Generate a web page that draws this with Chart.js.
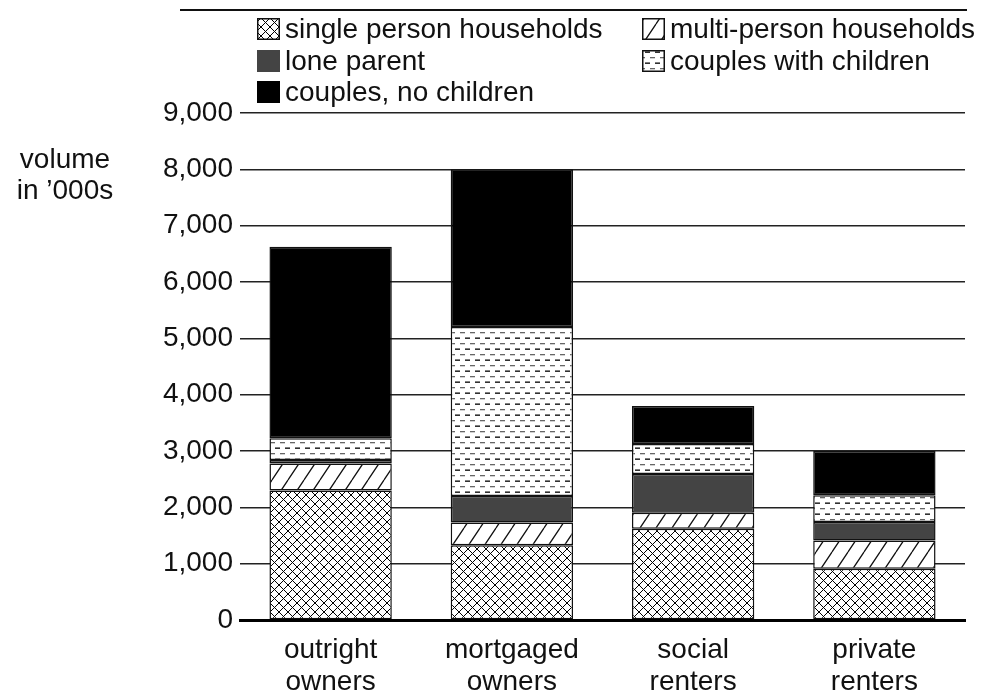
<!DOCTYPE html>
<html>
<head>
<meta charset="utf-8">
<script src="https://cdn.jsdelivr.net/npm/chart.js@4"></script>
<style>
  html, body { margin: 0; padding: 0; background: #fff; }
  #wrap { width: 997px; height: 695px; }
</style>
</head>
<body>
<div id="wrap"><canvas id="chart" width="997" height="695"></canvas></div>
<script>
// ── Data ──────────────────────────────────────────────
const categories = [['outright', 'owners'], ['mortgaged', 'owners'], ['social', 'renters'], ['private', 'renters']];
const seriesNames = ['single person households', 'multi-person households', 'lone parent', 'couples with children', 'couples, no children'];
const singlePerson = [2300, 1325, 1620, 910];
const multiPerson = [480, 405, 285, 500];
const loneParent = [60, 470, 685, 330];
const couplesWithChildren = [385, 3000, 535, 475];
const couplesNoChildren = [3400, 2800, 675, 785];
const yAxisTitle = ['volume', 'in \u2019000s'];

const FONT = '"Liberation Sans", Arial, Helvetica, sans-serif';
const TEXT = '#111';

/**
 * Build a canvas pattern from a small tile drawer
 */
function makePattern(w, h, draw) {
    const c = document.createElement('canvas');
    c.width = w; c.height = h;
    const g = c.getContext('2d');
    g.fillStyle = '#fff';
    g.fillRect(0, 0, w, h);
    draw(g, w, h);
    return document.getElementById('chart').getContext('2d').createPattern(c, 'repeat');
}

const crossHatch = makePattern(9, 9, (g, w, h) => {
    g.strokeStyle = '#000';
    g.lineWidth = 1;
    g.beginPath();
    g.moveTo(-2, -2); g.lineTo(w + 2, h + 2);
    g.moveTo(-2, h + 2); g.lineTo(w + 2, -2);
    g.stroke();
});

const diagHatch = makePattern(16, 24, (g, w, h) => {
    g.strokeStyle = '#111';
    g.lineWidth = 1.3;
    g.beginPath();
    for (const dx of [-w, 0, w]) {
        g.moveTo(dx, h); g.lineTo(dx + w, 0);
    }
    g.stroke();
});

const dashLines = makePattern(10, 11, (g) => {
    g.fillStyle = '#666';
    g.fillRect(0, 2, 5, 1.3);
    g.fillStyle = '#000';
    g.fillRect(5, 7.5, 5, 1.3);
});

const fills = [crossHatch, diagHatch, '#444444', dashLines, '#000000'];
const values = [singlePerson, multiPerson, loneParent, couplesWithChildren, couplesNoChildren];

/**
 * Legend in two columns, axis title and top rule
 */
const decorPlugin = {
    id: 'decor',
    afterDraw(chart) {
        const { ctx, chartArea } = chart;
        ctx.save();

        // rule across the top
        ctx.strokeStyle = '#111';
        ctx.lineWidth = 2;
        ctx.beginPath();
        ctx.moveTo(180, 10);
        ctx.lineTo(chartArea.right + 2, 10);
        ctx.stroke();

        // y axis title
        ctx.font = '28px ' + FONT;
        ctx.fillStyle = TEXT;
        ctx.textAlign = 'center';
        ctx.textBaseline = 'middle';
        ctx.fillText(yAxisTitle[0], 65, 160);
        ctx.fillText(yAxisTitle[1], 65, 191);

        // legend
        const colX = [257, 642];
        const rowY = [29, 61, 92];
        ctx.textAlign = 'left';
        chart.data.datasets.forEach((ds, i) => {
            const x = colX[i % 2];
            const y = rowY[Math.floor(i / 2)];
            ctx.fillStyle = ds.backgroundColor;
            ctx.fillRect(x, y - 11, 23, 22);
            if (typeof ds.backgroundColor !== 'string') {
                ctx.strokeStyle = '#111';
                ctx.lineWidth = 1.5;
                ctx.strokeRect(x + 0.75, y - 10.25, 21.5, 20.5);
            }
            ctx.fillStyle = TEXT;
            ctx.fillText(ds.label, x + 28, y + 1);
        });

        ctx.restore();
    }
};

new Chart(document.getElementById('chart'), {
    type: 'bar',
    data: {
        labels: categories,
        datasets: seriesNames.map((name, i) => ({
            label: name,
            data: values[i],
            backgroundColor: fills[i],
            borderColor: '#111',
            borderWidth: 1.5,
            borderSkipped: false
        }))
    },
    plugins: [decorPlugin],
    options: {
        responsive: false,
        animation: false,
        devicePixelRatio: 1,
        layout: { padding: { top: 113, right: 32, left: 0, bottom: 0 } },
        categoryPercentage: 1,
        barPercentage: 0.675,
        plugins: {
            legend: { display: false },
            tooltip: { enabled: false }
        },
        scales: {
            x: {
                stacked: true,
                grid: { display: false, drawTicks: false },
                border: { display: true, color: '#000', width: 3 },
                ticks: {
                    color: TEXT,
                    padding: 14,
                    font: { family: FONT, size: 28, lineHeight: 1.15 }
                },
                afterFit: scale => { scale.height = 75; }
            },
            y: {
                stacked: true,
                min: 0,
                max: 9000,
                grid: { color: '#222', lineWidth: 1.5, drawTicks: false },
                border: { display: false },
                ticks: {
                    stepSize: 1000,
                    color: TEXT,
                    padding: 7,
                    font: { family: FONT, size: 28 },
                    callback: v => v.toLocaleString('en-US')
                },
                afterFit: scale => { scale.width = 240; }
            }
        }
    }
});
</script>
</body>
</html>
